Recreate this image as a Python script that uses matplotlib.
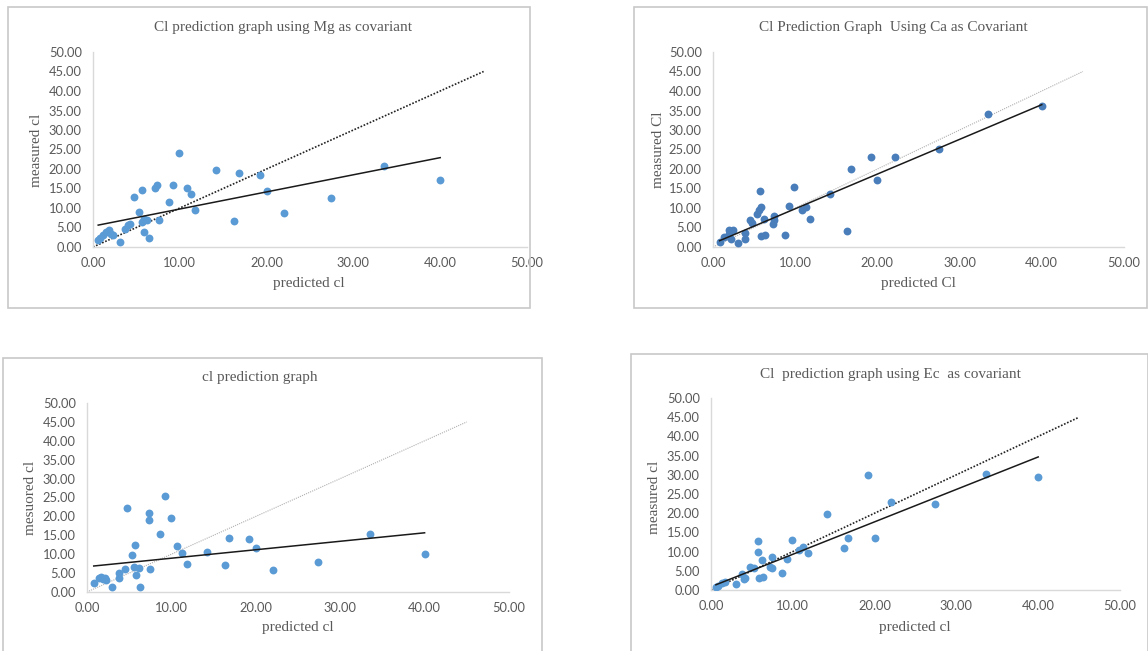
import matplotlib
matplotlib.use("Agg")
import matplotlib.pyplot as plt
from matplotlib.patches import Rectangle
import numpy as np

# --- data (predicted vs measured Cl) ---
mg_pred = [40.0, 33.5, 27.4, 22.0, 20.0, 19.2, 16.8, 16.2, 14.2, 11.8, 11.3, 10.8, 9.9,
           9.25, 8.75, 7.6, 7.4, 7.2, 6.4, 6.2, 5.9, 5.9, 5.7, 5.7, 5.3, 4.7, 4.3, 4.0,
           3.65, 3.1, 2.1, 1.9, 2.3, 1.5, 1.2, 0.8, 0.6]
mg_meas = [17.1, 20.8, 12.6, 8.8, 14.3, 18.5, 19.1, 6.7, 19.8, 9.4, 13.5, 15.0, 24.1,
           15.8, 11.5, 7.0, 15.9, 15.0, 2.2, 6.8, 3.8, 7.3, 6.4, 14.5, 9.0, 12.8, 6.0, 5.6,
           4.7, 1.3, 3.4, 4.3, 3.0, 3.8, 3.0, 2.2, 1.7]
mg_trend = (0.439, 5.35)  # slope, intercept

ca_pred = [40.0, 33.5, 27.5, 22.1, 19.2, 20.0, 16.8, 16.3, 14.25, 11.8, 11.3, 10.8, 9.9,
           9.3, 8.75, 7.4, 7.4, 7.25, 6.2, 6.3, 5.9, 5.7, 5.8, 5.6, 5.3, 4.55, 4.8, 3.9,
           3.9, 3.1, 2.4, 1.9, 2.0, 2.2, 1.3, 0.8]
ca_meas = [36.2, 34.0, 25.0, 23.1, 23.1, 17.1, 19.9, 4.1, 13.7, 7.3, 10.3, 9.4, 15.4,
           10.4, 3.0, 7.9, 6.8, 5.8, 7.1, 3.0, 2.7, 14.3, 10.3, 9.4, 8.5, 6.8, 6.2, 3.7,
           2.1, 1.1, 4.3, 4.4, 3.4, 2.0, 2.6, 1.3]
ca_trend = (0.89, 0.9)

base_pred = [40.0, 33.5, 27.4, 22.0, 20.0, 19.2, 16.8, 16.3, 14.2, 11.8, 11.3, 10.7, 9.9,
             9.25, 8.7, 7.5, 7.4, 7.3, 6.3, 6.2, 5.85, 5.6, 5.65, 5.3, 4.75, 4.5, 3.8, 3.8,
             3.0, 2.2, 2.1, 1.7, 1.4, 1.9, 0.8]
base_meas = [10.1, 15.4, 7.9, 5.7, 11.7, 14.1, 14.4, 7.2, 10.6, 7.5, 10.3, 12.1, 19.6,
             25.4, 15.3, 6.2, 19.0, 20.9, 1.3, 6.3, 4.4, 6.6, 12.5, 9.9, 22.2, 6.1, 5.1, 3.8,
             1.3, 3.1, 3.8, 4.1, 3.8, 3.5, 2.5]
base_trend = (0.224, 6.7)

ec_pred = [40.0, 33.6, 27.4, 22.0, 19.2, 20.0, 16.8, 16.3, 14.2, 11.8, 11.2, 10.7, 9.9,
           9.3, 8.7, 7.4, 7.5, 7.2, 6.2, 6.4, 5.9, 5.7, 5.8, 5.3, 4.8, 4.2, 4.0, 3.75,
           3.0, 1.7, 1.3, 0.9, 0.6]
ec_meas = [29.4, 30.3, 22.4, 22.9, 29.9, 13.6, 13.6, 10.9, 19.7, 9.6, 11.3, 10.4, 13.0,
           8.1, 4.3, 8.7, 5.7, 6.1, 7.7, 3.3, 3.0, 12.8, 9.8, 5.7, 6.1, 3.0, 2.9, 4.2,
           1.6, 2.2, 1.7, 1.0, 0.7]
ec_trend = (0.845, 0.85)

ticks = [0, 10, 20, 30, 40, 50]
yticks = [0, 5, 10, 15, 20, 25, 30, 35, 40, 45, 50]

W, H = 1148, 651
fig = plt.figure(figsize=(W / 100, H / 100), dpi=100)

SERIF = "Liberation Serif"
SANS = "Lato"
GREY = "#595959"


def px_rect(x0, y0, x1, y1):
    # pixel box (top-left origin) -> figure fraction [l, b, w, h]
    return [x0 / W, 1 - y1 / H, (x1 - x0) / W, (y1 - y0) / H]


def panel(box, ax_px, pred, meas, trend, title, xlabel, ylabel, title_xy, xlab_xy,
          ylab_xy, dot_color, marker_color):
    l, b, w, h = px_rect(*box)
    fig.patches.append(Rectangle((l, b), w, h, transform=fig.transFigure,
                                 fill=False, edgecolor="#c8c8c8", lw=1.2))
    ax = fig.add_axes(px_rect(*ax_px))
    ax.set_xlim(0, 50)
    ax.set_ylim(0, 50)
    ax.set_xticks(ticks)
    ax.set_yticks(yticks)
    ax.set_xticklabels([f"{t:.2f}" for t in ticks])
    ax.set_yticklabels([f"{t:.2f}" for t in yticks])
    for s in ("top", "right"):
        ax.spines[s].set_visible(False)
    for s in ("left", "bottom"):
        ax.spines[s].set_color("#d9d9d9")
        ax.spines[s].set_linewidth(1.0)
    ax.tick_params(axis="y", length=0, labelsize=9.3, colors=GREY, pad=8)
    ax.tick_params(axis="x", length=0, labelsize=9.3, colors=GREY, pad=7)
    for lab in ax.get_xticklabels() + ax.get_yticklabels():
        lab.set_fontfamily(SANS)

    ax.scatter(pred, meas, s=32, color=marker_color, zorder=3, linewidths=0)
    ref = np.array([0, 45])
    if dot_color == "black":
        ax.plot(ref, ref, color="#222222", lw=1.2, ls=(0, (1, 1)), zorder=2)
    else:
        ax.plot(ref, ref, color="#b0b0b0", lw=0.8, ls=(0, (1, 1)), zorder=2)
    xs = np.array([min(pred), max(pred)])
    ax.plot(xs, trend[0] * xs + trend[1], color="#1a1a1a", lw=1.1, zorder=4)

    fig.text(title_xy[0] / W, 1 - title_xy[1] / H, title, ha="center", va="center",
             family=SERIF, fontsize=11, color=GREY)
    fig.text(xlab_xy[0] / W, 1 - xlab_xy[1] / H, xlabel, ha="center", va="center",
             family=SERIF, fontsize=11, color=GREY)
    fig.text(ylab_xy[0] / W, 1 - ylab_xy[1] / H, ylabel, ha="center", va="center",
             rotation=90, family=SERIF, fontsize=11, color=GREY)


panel((8, 7, 530, 308), (93, 52, 527, 247), mg_pred, mg_meas, mg_trend,
      "Cl prediction graph using Mg as covariant", "predicted cl", "measured cl",
      (283, 27), (309, 284), (36, 150), "black", "#5b9bd5")
panel((634, 7, 1147, 308), (713, 52, 1124, 247), ca_pred, ca_meas, ca_trend,
      "Cl Prediction Graph  Using Ca as Covariant", "predicted Cl", "measured Cl",
      (893, 27), (918, 284), (659, 150), "grey", "#4a7ebb")
panel((3, 358, 542, 652), (87, 403, 509, 592), base_pred, base_meas, base_trend,
      "cl prediction graph", "predicted cl", "mesuored cl",
      (260, 378), (298, 627), (30, 498), "grey", "#5b9bd5")
panel((631, 354, 1148, 652), (711, 398, 1120, 590), ec_pred, ec_meas, ec_trend,
      "Cl  prediction graph using Ec  as covariant", "predicted cl", "measured cl",
      (890, 375), (915, 627), (654, 497), "black", "#5b9bd5")

fig.savefig("out.png", dpi=100)
